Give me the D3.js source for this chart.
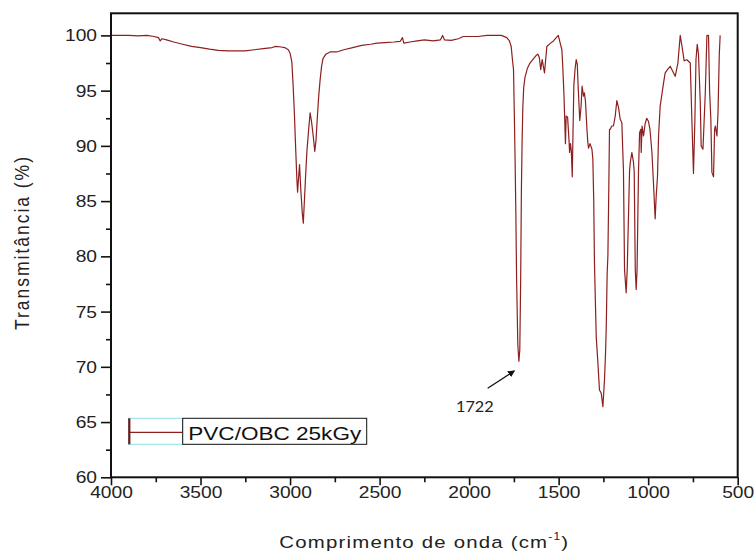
<!DOCTYPE html>
<html>
<head>
<meta charset="utf-8">
<script src="https://cdn.jsdelivr.net/npm/d3@7"></script>
<style>
  body { margin: 0; background: #fff; }
  svg { display: block; }
</style>
</head>
<body>
<div id="chart"></div>
<script>

// FTIR spectrum: wavenumber (cm-1) and transmittance (%)
let wavenumbers = [
  4000, 3900, 3850, 3800, 3760, 3735, 3725, 3715, 3690, 3650, 3600, 3550, 3500, 3450, 3400, 3350,
  3300, 3250, 3200, 3150, 3100, 3080, 3050, 3030, 3010, 3000, 2990, 2983, 2976, 2968, 2962, 2958,
  2953, 2947, 2940, 2932, 2926, 2920, 2914, 2906, 2896, 2888, 2880, 2870, 2862, 2855, 2848, 2840,
  2832, 2824, 2816, 2800, 2777, 2740, 2700, 2650, 2600, 2550, 2514, 2470, 2420, 2385, 2372, 2365,
  2330, 2290, 2250, 2200, 2160, 2148, 2138, 2100, 2060, 2033, 1950, 1900, 1820, 1790, 1775, 1765,
  1758, 1752, 1747, 1743, 1739, 1735, 1728, 1722, 1717, 1712, 1708, 1704, 1700, 1695, 1688, 1675,
  1660, 1640, 1625, 1616, 1608, 1600, 1592, 1579, 1566, 1545, 1529, 1502, 1490, 1482, 1477, 1470,
  1466, 1462, 1458, 1450, 1442, 1439, 1434, 1429, 1424, 1420, 1415, 1408, 1402, 1396, 1390, 1382,
  1375, 1369, 1361, 1356, 1350, 1342, 1337, 1333, 1325, 1314, 1309, 1304, 1300, 1295, 1290, 1281,
  1272, 1262, 1253, 1244, 1238, 1234, 1229, 1225, 1220, 1216, 1212, 1203, 1194, 1184, 1175, 1166,
  1156, 1147, 1138, 1132, 1123, 1117, 1104, 1100, 1091, 1082, 1078, 1072, 1067, 1062, 1054, 1048,
  1041, 1039, 1034, 1026, 1017, 1008, 998, 990, 979, 970, 961, 955, 948, 942, 933, 914,
  905, 892, 877, 849, 834, 821, 811, 799, 784, 765, 756, 747, 739, 733, 726, 719,
  709, 704, 694, 681, 672, 663, 657, 650, 644, 635, 629, 625, 616, 610, 603, 598,
  594
];

let transmittance = [
  100.0, 100.0, 99.95, 100.0, 99.9, 99.8, 99.5, 99.7, 99.6, 99.4, 99.2, 99.0, 98.9, 98.75, 98.65, 98.6,
  98.6, 98.6, 98.7, 98.8, 98.9, 99.0, 98.95, 98.9, 98.7, 98.4, 97.6, 95.5, 93.0, 89.5, 87.0, 85.8,
  87.0, 88.3, 86.0, 84.0, 83.0, 85.0, 87.0, 89.5, 91.5, 93.0, 92.2, 90.8, 89.5, 90.5, 92.5, 94.5,
  96.0, 97.2, 97.9, 98.3, 98.5, 98.5, 98.7, 98.9, 99.1, 99.2, 99.3, 99.35, 99.4, 99.45, 99.8, 99.3,
  99.4, 99.5, 99.6, 99.5, 99.6, 100.0, 99.6, 99.55, 99.7, 99.9, 99.9, 100.0, 100.0, 99.8, 99.5, 99.0,
  97.8, 96.9, 92.4, 88.5, 84.0, 78.2, 72.0, 70.5, 71.5, 78.0, 86.0, 90.5, 93.5, 95.3, 96.2, 97.0,
  97.5, 97.9, 98.2, 98.3, 98.0, 96.9, 97.8, 96.6, 99.0, 99.3, 99.5, 100.0, 99.2, 98.7, 97.2, 94.5,
  92.4, 90.2, 92.7, 92.6, 90.5, 89.4, 90.2, 89.5, 87.2, 91.0, 95.5, 97.0, 97.8, 97.4, 95.0, 92.3,
  93.5, 95.4, 94.5, 94.8, 94.0, 91.5, 90.3, 89.8, 90.2, 89.7, 88.8, 85.0, 79.5, 76.0, 72.7, 70.4,
  67.9, 67.6, 66.4, 68.8, 71.3, 73.7, 78.5, 80.0, 86.0, 91.5, 91.5, 91.8, 91.8, 92.7, 94.1, 93.5,
  92.4, 92.1, 87.7, 78.8, 76.7, 78.8, 87.7, 88.5, 89.4, 88.5, 87.7, 78.8, 77.0, 78.8, 87.7, 91.2,
  91.5, 89.4, 91.8, 90.9, 92.0, 92.5, 92.2, 91.5, 89.4, 86.5, 83.4, 85.5, 87.2, 90.9, 93.6,
  95.7, 96.6, 96.9, 97.2, 96.3, 97.5, 100.0, 99.0, 97.7, 97.8, 97.5, 92.4, 87.5, 92.4, 97.8, 99.2,
  98.3, 93.9, 90.0, 89.7, 94.8, 100.0, 100.0, 95.0, 92.4, 87.6, 87.2, 91.5, 91.8, 90.9, 93.0, 98.2,
  100.0
];

let xTicks = [4000, 3500, 3000, 2500, 2000, 1500, 1000, 500];
let xMinor = [3750, 3250, 2750, 2250, 1750, 1250, 750];
let yTicks = [60, 65, 70, 75, 80, 85, 90, 95, 100];
let yMinor = [62.5, 67.5, 72.5, 77.5, 82.5, 87.5, 92.5, 97.5];

let seriesName = "PVC/OBC 25kGy";
let peakLabel = 1722;


let W = 756, H = 554;
let mLeft = 111, mRight = 737.7, mTop = 13.3, mBottom = 477.3;
let lineColor = "#8e1f1f";
let font = "'Liberation Sans', Arial, sans-serif";
let stretch = 1.2; // the reference is a bit wider than tall

let x = d3.scaleLinear().domain([4000, 500]).range([mLeft, mRight]);
let y = d3.scaleLinear().domain([60, 102]).range([mBottom, mTop]);

let svg = d3.select("#chart").append("svg")
    .attr("width", W)
    .attr("height", H)
    .style("background", "#fff");

let defs = svg.append("defs");
defs.append("marker")
    .attr("id", "arrow")
    .attr("viewBox", "0 0 10 10")
    .attr("refX", 9).attr("refY", 5)
    .attr("markerWidth", 7).attr("markerHeight", 7)
    .attr("markerUnits", "userSpaceOnUse")
    .attr("orient", "auto")
  .append("path")
    .attr("d", "M0,0 L10,5 L0,10 z")
    .attr("fill", "#111");


// spectrum
let pts = wavenumbers.map((w, i) => [w, transmittance[i]]);

let line = d3.line()
    .x(d => x(d[0]))
    .y(d => y(d[1]));

svg.append("path")
    .datum(pts)
    .attr("d", line)
    .attr("fill", "none")
    .attr("stroke", lineColor)
    .attr("stroke-width", 1.2)
    .attr("stroke-linejoin", "round");


// axes
let gx = svg.append("g")
    .attr("transform", `translate(0,${mBottom})`)
    .call(d3.axisBottom(x).tickValues(xTicks).tickSize(8).tickFormat(d3.format("d")));

let gxm = svg.append("g")
    .attr("transform", `translate(0,${mBottom})`)
    .call(d3.axisBottom(x).tickValues(xMinor).tickSize(5).tickFormat(""));

let gy = svg.append("g")
    .attr("transform", `translate(${mLeft},0)`)
    .call(d3.axisLeft(y).tickValues(yTicks).tickSize(10));

let gym = svg.append("g")
    .attr("transform", `translate(${mLeft},0)`)
    .call(d3.axisLeft(y).tickValues(yMinor).tickSize(5).tickFormat(""));

for (let g of [gx, gxm, gy, gym]) {
  g.select(".domain").remove();
  g.selectAll(".tick line").attr("stroke", "#111").attr("stroke-width", 1.6);
}

gx.selectAll(".tick text")
    .attr("y", 9.5)
    .attr("dy", "0.71em")
    .attr("transform", `scale(${stretch},1)`)
    .style("font-family", font)
    .style("font-size", "16px")
    .attr("fill", "#222");

gy.selectAll(".tick text")
    .attr("x", -14 / stretch)
    .attr("dy", "0.34em")
    .attr("transform", `scale(${stretch},1)`)
    .style("font-family", font)
    .style("font-size", "16px")
    .attr("fill", "#222");

// frame
svg.append("rect")
    .attr("x", mLeft).attr("y", mTop)
    .attr("width", mRight - mLeft).attr("height", mBottom - mTop)
    .attr("fill", "none")
    .attr("stroke", "#111")
    .attr("stroke-width", 2);


// axis titles
svg.append("text")
    .attr("transform", `translate(21.5,243.5) scale(${stretch},1) rotate(-90)`)
    .attr("text-anchor", "middle")
    .attr("dy", "0.35em")
    .attr("textLength", 173)
    .attr("lengthAdjust", "spacing")
    .style("font-family", font)
    .style("font-size", "17.5px")
    .attr("fill", "#222")
    .text("Transmitância (%)");

let xt = svg.append("text")
    .attr("transform", `translate(${(mLeft + mRight) / 2},547.7) scale(${stretch},1)`)
    .attr("text-anchor", "middle")
    .style("font-family", font)
    .style("font-size", "17px")
    .style("letter-spacing", "1px")
    .attr("fill", "#222");
xt.append("tspan").text("Comprimento de onda (cm");
xt.append("tspan").attr("dy", -8).style("font-size", "10px").text("-1");
xt.append("tspan").attr("dy", 8).text(")");


// legend
let lg = svg.append("g");
lg.append("rect")
    .attr("x", 128.5).attr("y", 418.3)
    .attr("width", 54).attr("height", 26)
    .attr("fill", "none")
    .attr("stroke", "#8fe0e0")
    .attr("stroke-width", 1);
lg.append("line")
    .attr("x1", 129).attr("x2", 182.7)
    .attr("y1", 432.3).attr("y2", 432.3)
    .attr("stroke", lineColor)
    .attr("stroke-width", 1.3);
lg.append("line")
    .attr("x1", 129.3).attr("x2", 129.3)
    .attr("y1", 418.3).attr("y2", 444.3)
    .attr("stroke", "#6e1a1a")
    .attr("stroke-width", 2.2);
lg.append("rect")
    .attr("x", 182.7).attr("y", 418.3)
    .attr("width", 184).attr("height", 26)
    .attr("fill", "#fff")
    .attr("stroke", "#111")
    .attr("stroke-width", 1);
lg.append("text")
    .attr("transform", `translate(188.3,440) scale(${stretch},1)`)
    .style("font-family", font)
    .style("font-size", "18.8px")
    .attr("fill", "#111")
    .text(seriesName);


// peak annotation
let peakT = transmittance[wavenumbers.indexOf(peakLabel)];
svg.append("line")
    .attr("x1", 487.7).attr("y1", 388.3)
    .attr("x2", x(peakLabel) - 4.5).attr("y2", y(peakT) + 9.5)
    .attr("stroke", "#111")
    .attr("stroke-width", 1.3)
    .attr("marker-end", "url(#arrow)");

svg.append("text")
    .attr("transform", `translate(456,411.7) scale(1.12,1)`)
    .style("font-family", "Lato, 'Open Sans', sans-serif")
    .style("font-size", "14.5px")
    .attr("fill", "#222")
    .text(peakLabel);

</script>
</body>
</html>
